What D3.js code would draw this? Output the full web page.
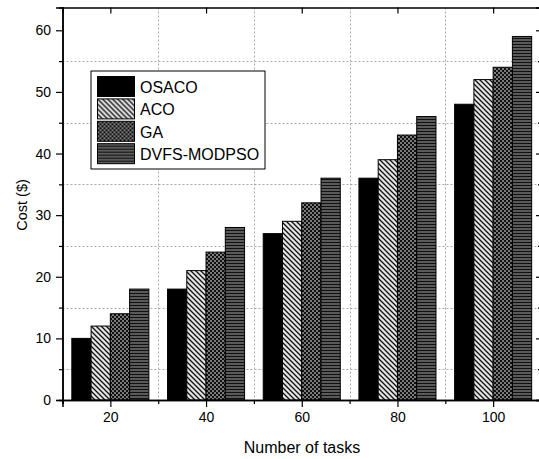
<!DOCTYPE html>
<html>
<head>
<meta charset="utf-8">
<script src="https://cdn.jsdelivr.net/npm/d3@7"></script>
<style>
  body { margin: 0; background: #fff; }
  text { font-family: "Liberation Sans", Arial, sans-serif; fill: #000; }
</style>
</head>
<body>
<div id="chart"></div>
<script>
// data
var categories = [20, 40, 60, 80, 100];
var seriesNames = ["OSACO", "ACO", "GA", "DVFS-MODPSO"];
var osaco = [10, 18, 27, 36, 48];
var aco = [12, 21, 29, 39, 52];
var ga = [14, 24, 32, 43, 54];
var dvfs = [18, 28, 36, 46, 59];
var yTicks = [0, 10, 20, 30, 40, 50, 60];
var yMinor = [5, 15, 25, 35, 45, 55];
var xMinor = [10, 30, 50, 70, 90, 110];

var allSeries = [osaco, aco, ga, dvfs];

var svgWidth = 539, svgHeight = 459;
var margin = { top: 7.5, right: -2, bottom: 59, left: 62.5 };
var chartWidth = svgWidth - margin.left - margin.right;
var chartHeight = svgHeight - margin.top - margin.bottom;

var svg = d3.select("#chart").append("svg")
    .attr("width", svgWidth)
    .attr("height", svgHeight);

// fill patterns for the bars
var defs = svg.append("defs");

var pAco = defs.append("pattern")
    .attr("id", "pat-aco")
    .attr("patternUnits", "userSpaceOnUse")
    .attr("width", 5).attr("height", 5);
pAco.append("rect").attr("width", 5).attr("height", 5).attr("fill", "#e4e4e4");
pAco.append("path")
    .attr("d", "M-1,-1 L6,6 M-1,4 L1,6 M4,-1 L6,1")
    .attr("stroke", "#111").attr("stroke-width", 1.3);

var pGa = defs.append("pattern")
    .attr("id", "pat-ga")
    .attr("patternUnits", "userSpaceOnUse")
    .attr("width", 4).attr("height", 4);
pGa.append("rect").attr("width", 4).attr("height", 4).attr("fill", "#7a7a7a");
pGa.append("rect").attr("width", 2).attr("height", 2).attr("fill", "#111");
pGa.append("rect").attr("x", 2).attr("y", 2).attr("width", 2).attr("height", 2).attr("fill", "#111");

var pDvfs = defs.append("pattern")
    .attr("id", "pat-dvfs")
    .attr("patternUnits", "userSpaceOnUse")
    .attr("width", 3).attr("height", 3);
pDvfs.append("rect").attr("width", 3).attr("height", 3).attr("fill", "#5a5a5a");
pDvfs.append("rect").attr("y", 2).attr("width", 3).attr("height", 1).attr("fill", "#111");

var fills = ["#000", "url(#pat-aco)", "url(#pat-ga)", "url(#pat-dvfs)"];

// scales
var xScale = d3.scaleLinear().domain([10, 110]).range([margin.left, margin.left + chartWidth]);
var yScale = d3.scaleLinear().domain([0, 63.7]).range([margin.top + chartHeight, margin.top]);
var groupWidth = (xScale(40) - xScale(20)) * 0.805;
var inner = d3.scaleBand().domain(d3.range(seriesNames.length)).range([-groupWidth / 2, groupWidth / 2]);

// dotted grid at the minor positions
var grid = svg.append("g")
    .attr("stroke", "#a8a8a8")
    .attr("stroke-width", 1)
    .attr("stroke-dasharray", "2,2");

grid.selectAll(null)
    .data(yMinor).enter().append("line")
    .attr("x1", xScale(10)).attr("x2", xScale(110))
    .attr("y1", d => Math.round(yScale(d)) + 0.5)
    .attr("y2", d => Math.round(yScale(d)) + 0.5);

grid.selectAll(null)
    .data([30, 50, 70, 90]).enter().append("line")
    .attr("y1", yScale(63.7)).attr("y2", yScale(0))
    .attr("x1", d => Math.round(xScale(d)) + 0.5)
    .attr("x2", d => Math.round(xScale(d)) + 0.5);

// bars
allSeries.forEach(function(vals, si) {
    svg.append("g").selectAll(null)
        .data(vals).enter().append("rect")
        .attr("x", (d, i) => xScale(categories[i]) + inner(si))
        .attr("y", d => yScale(d))
        .attr("width", inner.bandwidth())
        .attr("height", d => yScale(0) - yScale(d))
        .attr("fill", fills[si])
        .attr("stroke", "#000")
        .attr("stroke-width", 1);
});

// axes
var xAxis = d3.axisBottom(xScale).tickValues(categories).tickSize(7).tickPadding(5);
var xAxisMinor = d3.axisBottom(xScale).tickValues(xMinor).tickSize(4).tickFormat("");
var yAxis = d3.axisLeft(yScale).tickValues(yTicks).tickSize(6.5).tickPadding(5);
var yAxisMinor = d3.axisLeft(yScale).tickValues(yMinor).tickSize(3.5).tickFormat("");
var topAxis = d3.axisBottom(xScale).tickValues(categories).tickSize(6).tickFormat("");
var rightAxis = d3.axisLeft(yScale).tickValues(yTicks).tickSize(5).tickFormat("");
var rightMinor = d3.axisLeft(yScale).tickValues(yMinor).tickSize(3).tickFormat("");

function styleAxis(g) {
    g.selectAll(".domain").attr("stroke", "#000").attr("stroke-width", 1.5);
    g.selectAll(".tick line").attr("stroke", "#000").attr("stroke-width", 1.2);
    g.selectAll(".tick text").style("font-family", "Liberation Sans, Arial, sans-serif").style("font-size", "14px").attr("fill", "#000");
}

var x0 = margin.left + chartWidth;
svg.append("g").attr("transform", `translate(0, ${yScale(0)})`).call(xAxisMinor).call(styleAxis);
svg.append("g").attr("transform", `translate(0, ${yScale(0)})`).call(xAxis).call(styleAxis);
svg.append("g").attr("transform", `translate(${margin.left}, 0)`).call(yAxisMinor).call(styleAxis);
svg.append("g").attr("transform", `translate(${margin.left}, 0)`).call(yAxis).call(styleAxis);
svg.append("g").attr("transform", `translate(0, ${margin.top})`).call(topAxis).call(styleAxis);
svg.append("g").attr("transform", `translate(${x0}, 0)`).call(rightAxis).call(styleAxis);
svg.append("g").attr("transform", `translate(${x0}, 0)`).call(rightMinor).call(styleAxis);

// axis labels
svg.append("text")
    .attr("transform", "translate(27, 205) rotate(-90)")
    .attr("text-anchor", "middle")
    .style("font-size", "14.5px")
    .text("Cost ($)");

svg.append("text")
    .attr("x", 302).attr("y", 453)
    .attr("text-anchor", "middle")
    .style("font-size", "16px")
    .text("Number of tasks");

// legend
var legend = svg.append("g").attr("transform", "translate(91, 71)");
legend.append("rect")
    .attr("width", 174).attr("height", 98)
    .attr("fill", "#fff").attr("stroke", "#000").attr("stroke-width", 1);

var items = legend.selectAll("g.item")
    .data(seriesNames).enter().append("g")
    .attr("class", "item")
    .attr("transform", (d, i) => `translate(6.5, ${5.5 + i * 22.4})`);

items.append("rect")
    .attr("width", 37).attr("height", 20)
    .attr("fill", (d, i) => fills[i])
    .attr("stroke", "#000").attr("stroke-width", 1);

items.append("text")
    .attr("x", 42.5).attr("y", 16.5)
    .style("font-size", "16px")
    .text(d => d);
</script>
</body>
</html>
